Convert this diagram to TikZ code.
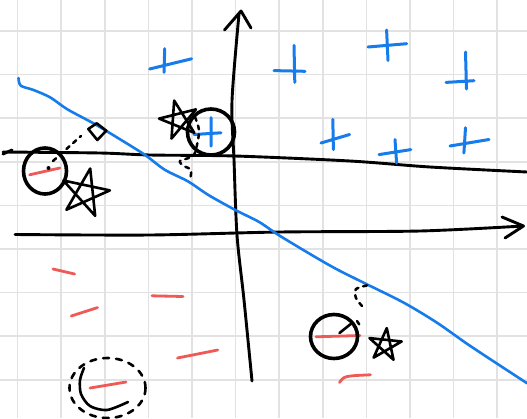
\documentclass[tikz,border=0pt]{standalone}
\usetikzlibrary{arrows.meta}
\definecolor{penblue}{RGB}{22,124,236}
\definecolor{penred}{RGB}{240,90,86}
\definecolor{gridgray}{RGB}{226,226,226}
% rough pentagram: centre, radius, turn
\newcommand{\sketchstar}[3]{%
  \draw[ink, line width=2.6pt] (#1) +(-90+#3:#2) -- +(54+#3:#2) -- +(198+#3:#2) -- +(342+#3:#2) -- +(126+#3:#2) -- cycle;}

\begin{document}
\begin{tikzpicture}[
    x=1pt, y=-1pt,
    gridline/.style={draw=gridgray, line width=1.6pt},
    ink/.style={draw=black, line width=2.9pt, line cap=round, line join=round},
    ring/.style={ink, line width=3.6pt},
    hint/.style={ink, line width=2.5pt, dash pattern=on 4pt off 5pt},
    boundary/.style={draw=penblue, line width=2.6pt, line cap=round, line join=round},
    posmark/.style={draw=penblue, line width=3pt, line cap=round},
    negmark/.style={draw=penred, line width=2.8pt, line cap=round}
]
\useasboundingbox (0,0) rectangle (527,418);
\fill[white] (0,0) rectangle (527,418);

% paper grid
\foreach \i in {0,...,11} \draw[gridline] ({17.5+43.6*\i},0) -- ++(0,418);
\foreach \j in {0,...,8} \draw[gridline] (0,{31+43.6*\j}) -- ++(527,0);

% axes
\draw[ink] plot[smooth] coordinates {(252,381) (244,300) (237,235) (234,160) (232,101) (239,14)};
\draw[ink] (224.5,30) -- (241,11) -- (251,28);
\draw[ink] plot[smooth] coordinates {(15,234.5) (150,235) (280,232) (420,231) (523,226)};
\draw[ink] (502,217) -- (523.5,226) -- (505,238);

% margin line
\draw[ink] (3,154) -- (12,150);
\draw[ink] plot[smooth] coordinates {(3,152) (100,153) (150,155) (235,156) (350,161) (430,167) (527,172)};

% decision boundary
\draw[boundary] plot[smooth] coordinates {(18.5,78) (20.8,85.7) (33.6,90) (50.4,97.5) (67.2,109.2) (94.1,123.7) (117.6,137.8) (144.5,154.6) (164.7,169.7) (188.2,181.5) (208.4,195) (235.3,210) (258.8,221.8) (279,235.3) (312.6,255.5) (336.1,268.9) (363,282.4) (403.4,302.5) (437,322.7) (470.6,346.2) (527,383.2)};

% positive samples
\draw[posmark] (149.6,69) -- (191.6,58.8) (164.7,48.7) -- (164,72.3);
\draw[posmark] (274,70.6) -- (305,71.3) (294,45.4) -- (294.8,82.4);
\draw[posmark] (368,47) -- (406.7,43.7) (386.6,30) -- (388,60.5);
\draw[posmark] (446,82.4) -- (474,80.7) (465.5,52) -- (466.5,89);
\draw[posmark] (321,143) -- (349.6,134.5) (332.8,119.3) -- (333.4,149.6);
\draw[posmark] (379,154.6) -- (410.8,149.6) (395,139.5) -- (396.6,163);
\draw[posmark] (450,146) -- (489,139.5) (465.5,127.7) -- (463.9,153);
\draw[posmark] (194,134.5) -- (221,132.8) (211,117.6) -- (211,146);

% negative samples
\draw[negmark] (53,269) -- (74.6,274);
\draw[negmark] (152,295.8) -- (183,296.5);
\draw[negmark] (71.3,316) -- (97.5,307.6);
\draw[negmark] (177.5,358) -- (217.8,350);
\draw[negmark] (339.5,382.5) .. controls (344,376) .. (370.4,374.8);
\draw[negmark] (29.6,174.8) -- (59.8,168);
\draw[negmark] (316,336.8) -- (360,335.5);
\draw[negmark] (90,388) -- (126,382);

% support vectors
\coordinate (svleft) at (45,171);
\coordinate (svmid) at (211,132);
\coordinate (svright) at (334,336.5);
\coordinate (svfar) at (107.5,388);
\draw[ring] (svleft) ellipse [x radius=21.5pt, y radius=23pt];
\draw[ring] (svmid) ellipse [x radius=23.5pt, y radius=23pt];
\draw[ring] (svright) ellipse [x radius=23.5pt, y radius=22pt];
\draw[hint, line width=2.6pt, dash pattern=on 6pt off 7pt] (svfar) ellipse [x radius=38pt, y radius=30pt];
\draw[ink, line width=2.6pt] plot[smooth] coordinates {(84,368) (80,380) (81,394) (90,406) (107,410) (128,402)};

% distances to the boundary
\fill (48.5,168) circle (2pt);
\draw[hint] (53,161) -- (81,136);
\draw[ink, line width=2.6pt] (88.3,129) -- (96.7,123.3) -- (106.3,130.7) -- (97.3,140) -- cycle;
\draw[hint] plot[smooth] coordinates {(195,117) (199,130) (197,145) (193,156) (180,161) (184,166) (191,170) (190,180)};
\draw[ink, line width=2.6pt] (339.5,333) -- (352,323);
\draw[hint] plot[smooth] coordinates {(357,321) (361,327)};
\draw[hint] plot[smooth] coordinates {(362,306) (356,298) (356,289) (369,285)};

% stars
\sketchstar{85,193}{25}{12}
\sketchstar{179,120}{20}{-14}
\sketchstar{385,345}{17}{6}
\end{tikzpicture}
\end{document}
